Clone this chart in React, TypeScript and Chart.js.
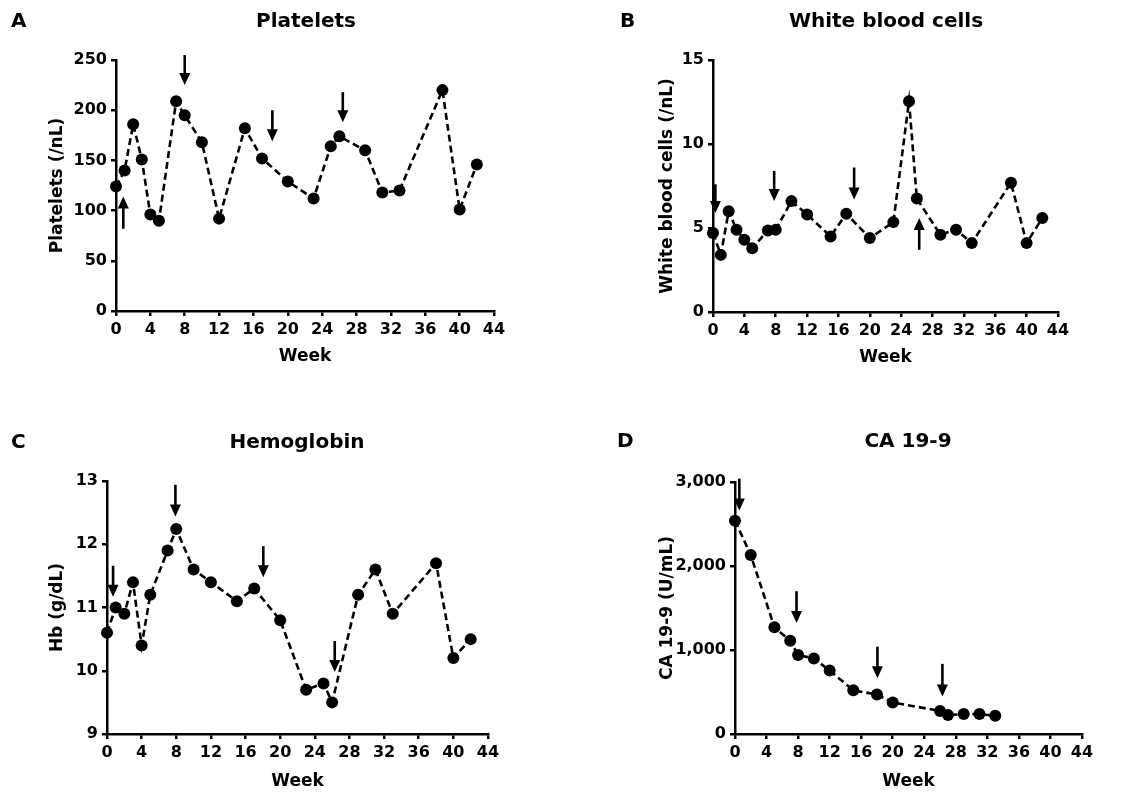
import React, { useEffect, useRef } from 'react';
import { Chart, registerables } from 'chart.js';

Chart.register(...registerables);
Chart.defaults.font.family = '"DejaVu Sans", sans-serif';
Chart.defaults.color = '#000';

// ---------- Data ----------
const weekTickStep = 4;

const plateletWeeks = [0, 1, 2, 3, 4, 5, 7, 8, 10, 12, 15, 17, 20, 23, 25, 26, 29, 31, 33, 38, 40, 42];
const plateletValues = [124, 140, 186, 151, 96, 90, 209, 195, 168, 92, 182, 152, 129, 112, 164, 174, 160, 118, 120, 220, 101, 146];
const plateletArrowWeeks = [0.85, 8, 18.2, 26.4];
const plateletArrowFrom = [82, 255, 200, 218];
const plateletArrowTo = [114, 225, 169, 188];

const wbcWeeks = [0, 1, 2, 3, 4, 5, 7, 8, 10, 12, 15, 17, 20, 23, 25, 26, 29, 31, 33, 38, 40, 42];
const wbcValues = [4.7, 3.4, 6.0, 4.9, 4.3, 3.8, 4.85, 4.9, 6.6, 5.8, 4.5, 5.85, 4.4, 5.35, 12.55, 6.75, 4.6, 4.9, 4.1, 7.7, 4.1, 5.6];
const wbcArrowWeeks = [0.3, 7.8, 18.0, 26.3];
const wbcArrowFrom = [7.6, 8.4, 8.6, 3.7];
const wbcArrowTo = [5.9, 6.6, 6.7, 5.6];

const hbWeeks = [0, 1, 2, 3, 4, 5, 7, 8, 10, 12, 15, 17, 20, 23, 25, 26, 29, 31, 33, 38, 40, 42];
const hbValues = [10.6, 11.0, 10.9, 11.4, 10.4, 11.2, 11.9, 12.24, 11.6, 11.4, 11.1, 11.3, 10.8, 9.7, 9.8, 9.5, 11.2, 11.6, 10.9, 11.7, 10.2, 10.5];
const hbArrowWeeks = [0.7, 7.9, 18.05, 26.3];
const hbArrowFrom = [11.66, 12.94, 11.97, 10.47];
const hbArrowTo = [11.17, 12.44, 11.48, 9.98];

const caWeeks = [0, 2, 5, 7, 8, 10, 12, 15, 18, 20, 26, 27, 29, 31, 33];
const caValues = [2540, 2130, 1270, 1110, 940, 900, 755, 520, 470, 375, 275, 225, 237, 237, 218];
const caArrowWeeks = [0.55, 7.8, 18.06, 26.3];
const caArrowFrom = [3040, 1700, 1040, 835];
const caArrowTo = [2660, 1320, 665, 447];

type Panel = {
  letter: string;
  title: string;
  yTitle: string;
  weeks: number[];
  values: number[];
  arrowWeeks: number[];
  arrowFrom: number[];
  arrowTo: number[];
  yMin: number;
  yMax: number;
  yStep: number;
  comma?: boolean;
  left: number; top: number; w: number; h: number;
  L: number; R: number; T: number; B: number;
  yTitleX: number; weekY: number; letterX: number; titleX: number; headY: number;
};

const panels: Panel[] = [
  {
    letter: 'A', title: 'Platelets', yTitle: 'Platelets (/nL)',
    weeks: plateletWeeks, values: plateletValues,
    arrowWeeks: plateletArrowWeeks, arrowFrom: plateletArrowFrom, arrowTo: plateletArrowTo,
    yMin: 0, yMax: 250, yStep: 50,
    left: 0, top: 0, w: 570, h: 395, L: 116, R: 494, T: 60, B: 311,
    yTitleX: 58, weekY: 357, letterX: 11, titleX: 306, headY: 22,
  },
  {
    letter: 'B', title: 'White blood cells', yTitle: 'White blood cells (/nL)',
    weeks: wbcWeeks, values: wbcValues,
    arrowWeeks: wbcArrowWeeks, arrowFrom: wbcArrowFrom, arrowTo: wbcArrowTo,
    yMin: 0, yMax: 15, yStep: 5,
    left: 570, top: 0, w: 573, h: 395, L: 143, R: 488, T: 60, B: 312,
    yTitleX: 98, weekY: 358, letterX: 50, titleX: 316, headY: 22,
  },
  {
    letter: 'C', title: 'Hemoglobin', yTitle: 'Hb (g/dL)',
    weeks: hbWeeks, values: hbValues,
    arrowWeeks: hbArrowWeeks, arrowFrom: hbArrowFrom, arrowTo: hbArrowTo,
    yMin: 9, yMax: 13, yStep: 1,
    left: 0, top: 395, w: 570, h: 401, L: 107, R: 488, T: 86, B: 339,
    yTitleX: 58, weekY: 387, letterX: 11, titleX: 297, headY: 48,
  },
  {
    letter: 'D', title: 'CA 19-9', yTitle: 'CA 19-9 (U/mL)',
    weeks: caWeeks, values: caValues,
    arrowWeeks: caArrowWeeks, arrowFrom: caArrowFrom, arrowTo: caArrowTo,
    yMin: 0, yMax: 3000, yStep: 1000, comma: true,
    left: 570, top: 395, w: 573, h: 401, L: 165, R: 512, T: 87, B: 339,
    yTitleX: 98, weekY: 387, letterX: 47, titleX: 338, headY: 47,
  },
];

function makeAnnotPlugin(p: Panel) {
  return {
    id: 'annot' + p.letter,
    afterDraw(chart: any) {
      const { ctx } = chart;
      const xs = chart.scales.x;
      const ys = chart.scales.y;
      ctx.save();
      ctx.fillStyle = '#000';
      ctx.strokeStyle = '#000';
      p.arrowWeeks.forEach((w, i) => {
        const px = xs.getPixelForValue(w);
        const y1 = ys.getPixelForValue(p.arrowFrom[i]);
        const y2 = ys.getPixelForValue(p.arrowTo[i]);
        const dir = Math.sign(y2 - y1);
        const head = 12;
        ctx.lineWidth = 2.6;
        ctx.beginPath();
        ctx.moveTo(px, y1);
        ctx.lineTo(px, y2 - dir * (head - 1));
        ctx.stroke();
        ctx.beginPath();
        ctx.moveTo(px - 5.5, y2 - dir * head);
        ctx.lineTo(px + 5.5, y2 - dir * head);
        ctx.lineTo(px, y2);
        ctx.closePath();
        ctx.fill();
      });
      ctx.font = 'bold 20px "DejaVu Sans"';
      ctx.textBaseline = 'middle';
      ctx.textAlign = 'left';
      ctx.fillText(p.letter, p.letterX, p.headY);
      ctx.textAlign = 'center';
      ctx.fillText(p.title, p.titleX, p.headY);
      ctx.restore();
    },
  };
}

function PanelChart({ p }: { p: Panel }) {
  const ref = useRef<HTMLCanvasElement | null>(null);
  useEffect(() => {
    if (!ref.current) return;
    const titleFont = { size: 17, weight: 'bold' as const, lineHeight: 1.2 };
    const tickFont = { size: 16, weight: 'bold' as const };
    const chart = new Chart(ref.current, {
      type: 'line',
      data: {
        datasets: [
          {
            data: p.weeks.map((w, i) => ({ x: w, y: p.values[i] })),
            borderColor: '#000',
            borderWidth: 2.6,
            borderDash: [7, 4],
            pointRadius: 6,
            pointBackgroundColor: '#000',
            pointBorderColor: '#000',
            pointBorderWidth: 0,
            tension: 0,
            clip: false as any,
          },
        ],
      },
      options: {
        animation: false,
        responsive: false,
        events: [],
        layout: { padding: { left: 0, top: p.T, right: p.w - p.R, bottom: 0 } },
        plugins: { legend: { display: false }, tooltip: { enabled: false }, title: { display: false } },
        scales: {
          x: {
            type: 'linear',
            min: 0,
            max: 44,
            ticks: { stepSize: weekTickStep, font: tickFont, color: '#000', padding: 4, maxRotation: 0, autoSkip: false },
            grid: { drawOnChartArea: false, color: '#000', lineWidth: 2.5, tickLength: 5 },
            border: { display: true, color: '#000', width: 2.5 },
            title: { display: true, text: 'Week', font: titleFont, color: '#000', padding: { top: 0, bottom: p.h - p.weekY - 10.2 } },
            afterFit: (s: any) => { s.height = p.h - p.B; },
          },
          y: {
            type: 'linear',
            min: p.yMin,
            max: p.yMax,
            ticks: {
              stepSize: p.yStep,
              font: tickFont,
              color: '#000',
              padding: 4,
              callback: (v: any) => (p.comma ? Number(v).toLocaleString('en-US') : String(v)),
            },
            grid: { drawOnChartArea: false, color: '#000', lineWidth: 2.5, tickLength: 5 },
            border: { display: true, color: '#000', width: 2.5 },
            title: { display: true, text: p.yTitle, font: titleFont, color: '#000', padding: { top: p.yTitleX - 10.2, bottom: 0 } },
            afterFit: (s: any) => { s.width = p.L; },
          },
        },
      } as any,
      plugins: [makeAnnotPlugin(p)],
    });
    return () => chart.destroy();
  }, [p]);
  return (
    <canvas
      ref={ref}
      width={p.w}
      height={p.h}
      style={{ position: 'absolute', left: p.left, top: p.top, width: p.w, height: p.h }}
    />
  );
}

export default function App() {
  return (
    <div style={{ position: 'absolute', left: 0, top: 0, width: 1143, height: 796, background: '#fff' }}>
      {panels.map((p) => (
        <PanelChart key={p.letter} p={p} />
      ))}
    </div>
  );
}
